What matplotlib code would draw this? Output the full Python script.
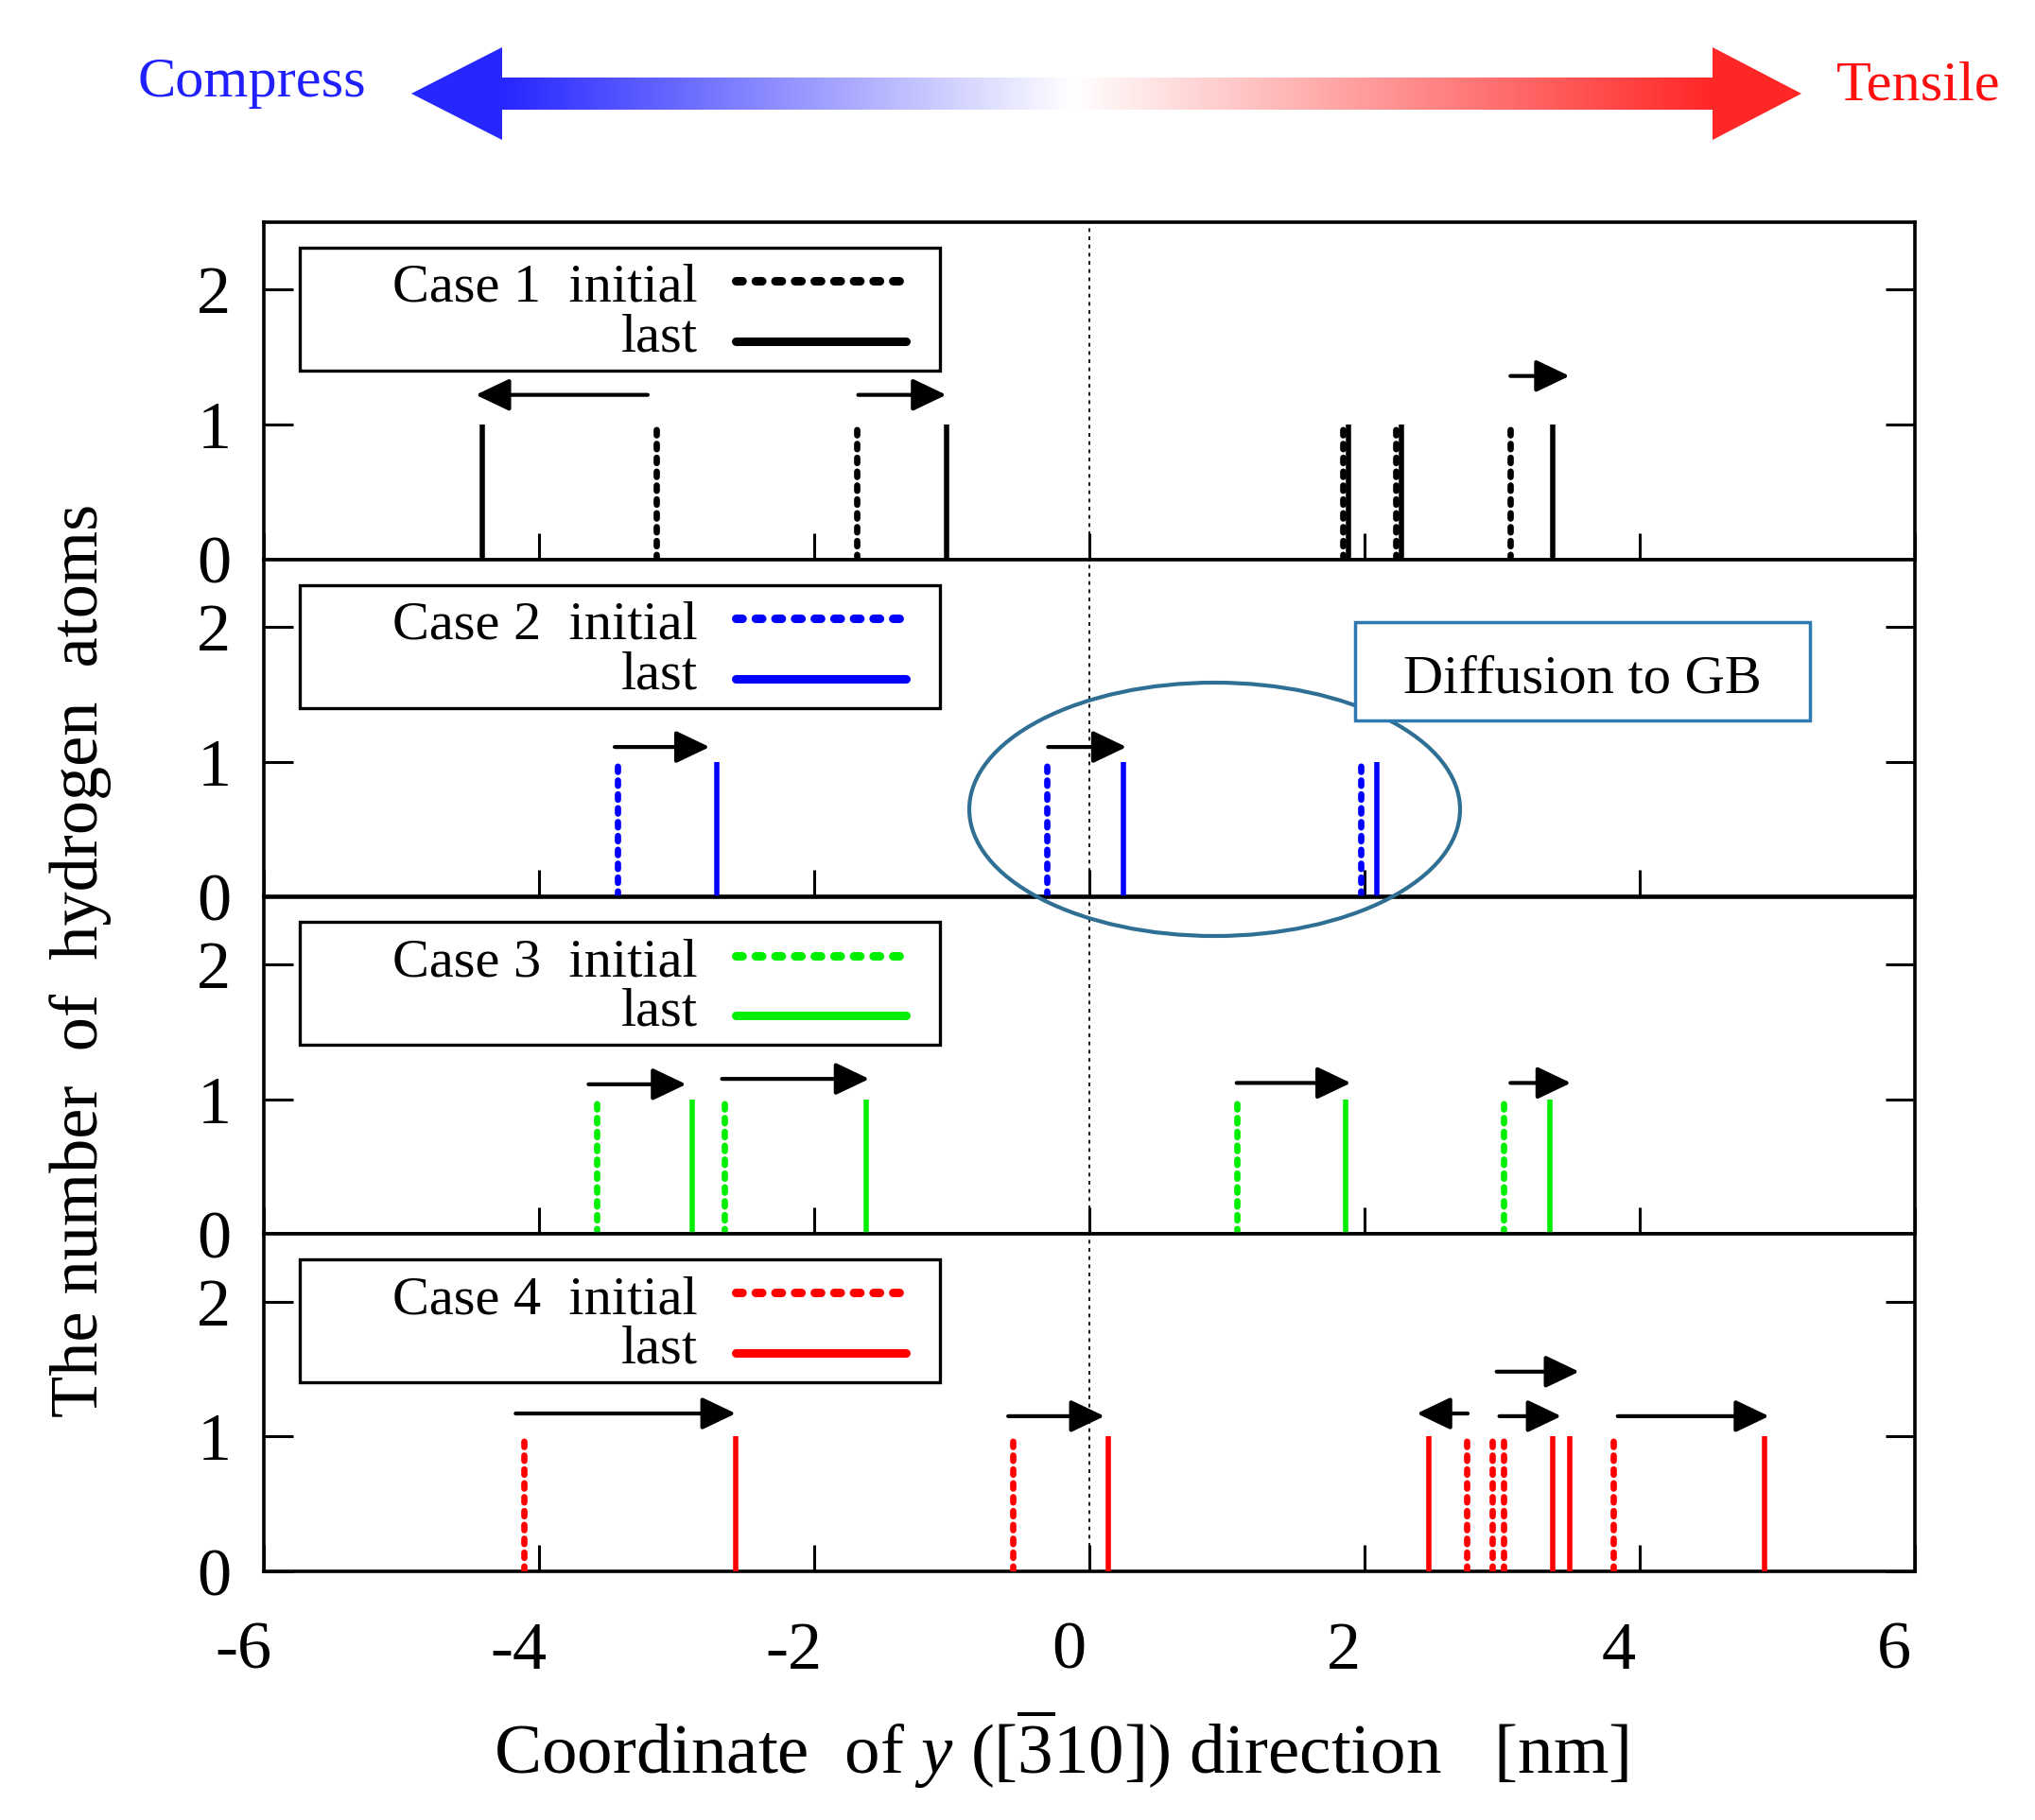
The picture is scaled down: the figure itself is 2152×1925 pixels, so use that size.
import numpy as np
import matplotlib
matplotlib.use('Agg')
import matplotlib.pyplot as plt
from matplotlib.patches import Rectangle, Ellipse, Polygon, FancyArrowPatch
from matplotlib.lines import Line2D
from matplotlib.transforms import ScaledTranslation

plt.rcParams['font.family'] = ['Liberation Serif', 'DejaVu Serif']
plt.rcParams['mathtext.fontset'] = 'custom'
plt.rcParams['mathtext.rm'] = 'Liberation Serif'
plt.rcParams['mathtext.it'] = 'Liberation Serif:italic'
plt.rcParams['mathtext.bf'] = 'Liberation Serif:bold'

# ---------------- data ----------------
case_names = ['Case 1', 'Case 2', 'Case 3', 'Case 4']
case_colors = ['#000000', '#0000ff', '#00ee00', '#ff0000']

initial_1 = [-3.15, -1.69, 1.84, 2.23, 3.06]
last_1 = [-4.41, -1.04, 1.88, 2.27, 3.37]
initial_2 = [-3.43, -0.31, 1.97]
last_2 = [-2.71, 0.245, 2.09]
initial_3 = [-3.58, -2.65, 1.07, 3.01]
last_3 = [-2.89, -1.62, 1.86, 3.35]
initial_4 = [-4.11, -0.56, 2.74, 2.93, 3.01, 3.81]
last_4 = [-2.57, 0.14, 2.47, 3.37, 3.49, 4.91]
counts_value = 1

# displacement arrows: start x, end x, height
arrow_start_1 = [-3.21, -1.68, 3.06]
arrow_end_1 = [-4.46, -1.04, 3.49]
arrow_y_1 = [1.22, 1.22, 1.36]
arrow_start_2 = [-3.45, -0.30]
arrow_end_2 = [-2.76, 0.27]
arrow_y_2 = [1.11, 1.11]
arrow_start_3 = [-3.64, -2.67, 1.07, 3.06]
arrow_end_3 = [-2.93, -1.60, 1.90, 3.50]
arrow_y_3 = [1.11, 1.15, 1.12, 1.12]
arrow_start_4 = [-4.17, -0.59, 2.75, 2.98, 2.96, 3.84]
arrow_end_4 = [-2.57, 0.11, 2.38, 3.43, 3.56, 4.94]
arrow_y_4 = [1.17, 1.15, 1.17, 1.15, 1.48, 1.15]

x_ticks = [-6, -4, -2, 0, 2, 4, 6]
y_ticks = [0, 1, 2]

initials = [initial_1, initial_2, initial_3, initial_4]
lasts = [last_1, last_2, last_3, last_4]
arrows = [(arrow_start_1, arrow_end_1, arrow_y_1),
          (arrow_start_2, arrow_end_2, arrow_y_2),
          (arrow_start_3, arrow_end_3, arrow_y_3),
          (arrow_start_4, arrow_end_4, arrow_y_4)]

# ---------------- figure ----------------
W, H = 2152, 1925
fig = plt.figure(figsize=(W / 100, H / 100), dpi=100)
left_px, right_px = 279, 2025
top_px, bot_px = 235, 1662
ph = (bot_px - top_px) / 4.0

axes = []
for i in range(4):
    y0 = 1 - (top_px + (i + 1) * ph) / H
    ax = fig.add_axes([left_px / W, y0, (right_px - left_px) / W, ph / H])
    axes.append(ax)
    ax.set_xlim(-6, 6)
    ax.set_ylim(0, 2.5)
    ax.set_xticks(x_ticks)
    ax.set_yticks(y_ticks)
    ax.set_xticklabels([str(t) for t in x_ticks])
    ax.tick_params(axis='x', direction='in', length=20, width=2.2, top=False,
                   bottom=True, labelbottom=(i == 3), labelsize=52, pad=38)
    ax.tick_params(axis='y', direction='in', length=22, width=2.2, left=True,
                   right=True, labelsize=52, pad=25)
    for sp in ax.spines.values():
        sp.set_linewidth(2.6)

    # dotted GB line at 0
    ax.axvline(0, color='k', lw=1.3, ls=(0, (2.2, 2.6)), zorder=1)

    col = case_colors[i]
    for x in initials[i]:
        ax.plot([x, x], [0, counts_value], color=col, lw=4.8,
                ls=(0, (0.85, 1.35)), dash_capstyle='round', zorder=3)
    for x in lasts[i]:
        ax.plot([x, x], [0, counts_value], color=col, lw=4.0,
                solid_capstyle='butt', zorder=3)

    xs, xe, ys = arrows[i]
    for a, b, yy in zip(xs, xe, ys):
        arr = FancyArrowPatch((a, yy), (b, yy),
                              arrowstyle='-|>,head_length=2.2,head_width=1.05',
                              mutation_scale=10, lw=3.0, color='k',
                              shrinkA=0, shrinkB=0, zorder=4)
        ax.add_patch(arr)

    # legend box
    ax.add_patch(Rectangle((0.0218, 0.560), 0.3877, 0.3644, transform=ax.transAxes,
                           facecolor='white', edgecolor='k', lw=2.4, zorder=5))
    ax.text(0.2629, 0.765, case_names[i] + '  initial', transform=ax.transAxes,
            ha='right', va='baseline', fontsize=42, zorder=6)
    ax.text(0.2629, 0.618, 'last', transform=ax.transAxes,
            ha='right', va='baseline', fontsize=42, zorder=6)
    ax.add_line(Line2D([0.286, 0.386], [0.826, 0.826], transform=ax.transAxes,
                       color=col, lw=6.5, ls=(0, (0.75, 1.55)),
                       dash_capstyle='round', zorder=6))
    ax.add_line(Line2D([0.286, 0.389], [0.647, 0.647], transform=ax.transAxes,
                       color=col, lw=6.5, solid_capstyle='round', zorder=6))

for lbl in axes[3].get_xticklabels():
    lbl.set_transform(lbl.get_transform() + ScaledTranslation(-0.22, 0, fig.dpi_scale_trans))

# ---------------- decorations overlay (pixel coords) ----------------
deco = fig.add_axes([0, 0, 1, 1], zorder=20)
deco.set_facecolor('none')
deco.axis('off')

# gradient double arrow
poly_pts = [(435, 99), (531, 50), (531, 82), (1811, 82), (1811, 50), (1905, 99),
            (1811, 148), (1811, 116), (531, 116), (531, 148)]
poly = Polygon(poly_pts, closed=True, facecolor='none', edgecolor='none')
deco.add_patch(poly)
gx = np.linspace(435, 1905, 800)
blue = np.array([0.15, 0.15, 1.0])
red = np.array([1.0, 0.15, 0.15])
white = np.array([1.0, 1.0, 1.0])
grad = np.zeros((1, gx.size, 3))
for k, xv in enumerate(gx):
    if xv <= 531:
        c = blue
    elif xv < 1135:
        t = (xv - 531) / (1135 - 531)
        c = blue * (1 - t) + white * t
    elif xv < 1811:
        t = (xv - 1135) / (1811 - 1135)
        c = white * (1 - t) + red * t
    else:
        c = red
    grad[0, k] = c
im = deco.imshow(grad, extent=[435, 1905, 148, 50], aspect='auto',
                 interpolation='bilinear', zorder=2)
im.set_clip_path(poly)

deco.text(146, 102, 'Compress', color='#2020ff', fontsize=43.5, ha='left', va='baseline')
deco.text(1942, 105, 'Tensile', color='#ff1010', fontsize=43.5, ha='left', va='baseline')

# ellipse and annotation box
deco.add_patch(Ellipse((1284.5, 856), 519, 268, fill=False, edgecolor='#2f6f94',
                       lw=3, zorder=3))
deco.add_patch(Rectangle((1433, 658), 481, 104, facecolor='white',
                         edgecolor='#2e78b0', lw=2.5, zorder=4))
deco.text(1673.5, 732.7, 'Diffusion to GB', fontsize=42, ha='center',
          va='baseline', zorder=5)

# axis labels
deco.text(1122, 1876, r'Coordinate  of $y$ ([$\overline{3}$10]) direction   [nm]',
          fontsize=54, ha='center', va='baseline')
deco.text(85, 1016, 'The number  of  hydrogen  atoms', rotation=90, fontsize=52,
          ha='center', va='center')

deco.set_xlim(0, W)
deco.set_ylim(H, 0)

fig.savefig('out.png', dpi=100)
